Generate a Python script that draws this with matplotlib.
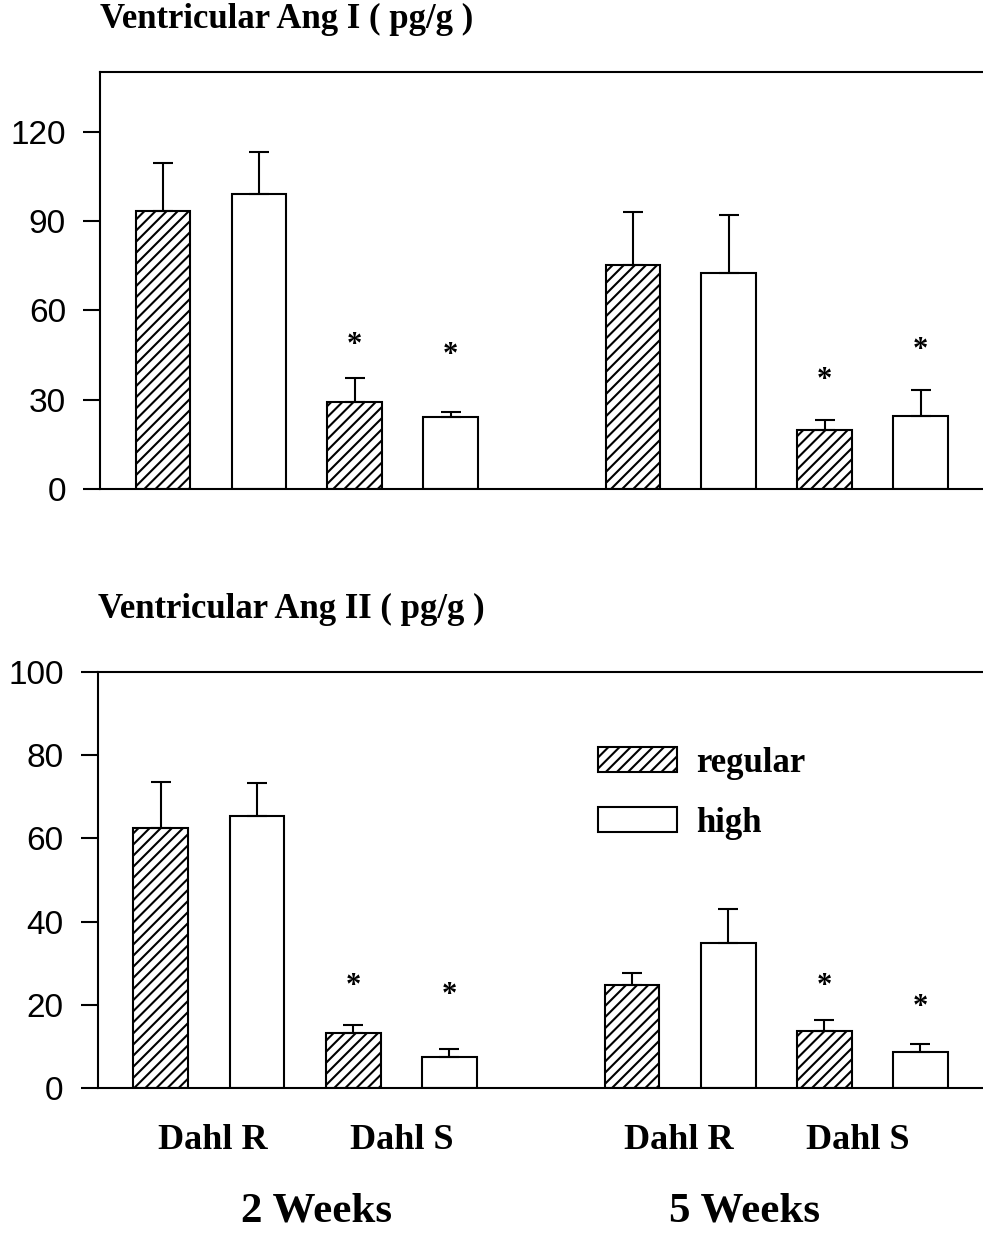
import matplotlib
matplotlib.use("Agg")
import matplotlib.pyplot as plt
import numpy as np

# --- data -------------------------------------------------------------------
# bar order: 2 wk Dahl R reg, 2 wk Dahl R high, 2 wk Dahl S reg, 2 wk Dahl S high,
#            5 wk Dahl R reg, 5 wk Dahl R high, 5 wk Dahl S reg, 5 wk Dahl S high
diets = ["regular", "high"]
strains = ["Dahl R", "Dahl S", "Dahl R", "Dahl S"]
weeks = ["2 Weeks", "5 Weeks"]

ang1_mean = [93.5, 99.1, 29.1, 24.2, 75.1, 72.6, 19.8, 24.6]
ang1_sem = [15.9, 14.0, 8.0, 1.7, 17.9, 19.3, 3.3, 8.6]
ang1_star = [None, None, 50.0, 46.6, None, None, 38.2, 48.3]

ang2_mean = [62.4, 65.4, 13.1, 7.5, 24.7, 34.8, 13.6, 8.7]
ang2_sem = [11.1, 8.0, 2.0, 1.8, 2.8, 8.2, 2.7, 1.8]
ang2_star = [None, None, 25.5, 23.5, None, None, 25.5, 20.4]

ang1_ticks = [0, 30, 60, 90, 120]
ang2_ticks = [0, 20, 40, 60, 80, 100]

# --- layout -----------------------------------------------------------------
SANS = "Liberation Sans"
SERIF = "Liberation Serif"
LW = 1.5
xpos = np.array([0, 1, 2, 3, 4.9, 5.9, 6.9, 7.9])
BAR_W = 0.57
XLIM = (-0.656, 8.55)
HATCH = {"regular": "///", "high": ""}

plt.rcParams["hatch.linewidth"] = 1.5

fig = plt.figure(figsize=(9.83, 12.38), dpi=100)
ax1 = fig.add_axes([100 / 983, 1 - 489 / 1238, 883 / 983, 417 / 1238])
ax2 = fig.add_axes([97.7 / 983, 1 - 1087.7 / 1238, 885.3 / 983, 415.4 / 1238])


def draw_panel(ax, mean, sem, stars, ticks, ymax, title, title_y):
    mean = np.asarray(mean)
    sem = np.asarray(sem)
    conts = []
    for k, diet in enumerate(diets):
        idx = np.arange(k, len(mean), 2)
        c = ax.bar(xpos[idx], mean[idx], BAR_W,
                   yerr=[np.zeros(len(idx)), sem[idx]],
                   color="white", edgecolor="black", linewidth=LW,
                   hatch=HATCH[diet], label=diet,
                   error_kw=dict(ecolor="black", elinewidth=LW,
                                 capsize=7, capthick=LW))
        conts.append(c)
    # significance marks
    for x, s in zip(xpos, stars):
        if s is None:
            continue
        ax.annotate("*", xy=(x, s), xytext=(0, -9), textcoords="offset points",
                    ha="center", va="baseline", fontsize=22,
                    family=SERIF, weight="bold")

    ax.set_xlim(*XLIM)
    ax.set_ylim(0, ymax)
    ax.set_yticks(ticks)
    ax.set_xticks([])
    ax.tick_params(axis="y", direction="out", length=12.5, width=LW, pad=12,
                   labelsize=24)
    for lab in ax.get_yticklabels():
        lab.set_family(SANS)
    for side in ("left", "top", "bottom"):
        ax.spines[side].set_linewidth(LW)
    ax.spines["right"].set_visible(False)
    ax.text(0.0, title_y, title, transform=ax.transAxes, ha="left",
            va="baseline", fontsize=25, family=SERIF, weight="bold")
    return conts


draw_panel(ax1, ang1_mean, ang1_sem, ang1_star, ang1_ticks, 140,
           "Ventricular Ang I ( pg/g )", 1.105)
conts = draw_panel(ax2, ang2_mean, ang2_sem, ang2_star, ang2_ticks, 100,
                   "Ventricular Ang II ( pg/g )", 1.130)

ax2.legend(handles=conts, loc="upper left", bbox_to_anchor=(0.565, 0.8205),
           frameon=False, borderpad=0, borderaxespad=0,
           handlelength=2.28, handleheight=0.72, handletextpad=0.55,
           labelspacing=0.78,
           prop=dict(family=SERIF, weight="bold", size=25))

# category labels under the lower panel
strain_x = [0.54, 2.51, 5.39, 7.25]
week_x = [1.62, 6.07]
xt = ax2.get_xaxis_transform()
for x, s in zip(strain_x, strains):
    ax2.text(x, -0.1476, s, transform=xt, ha="center", va="baseline",
             fontsize=26, family=SERIF, weight="bold")
for x, w in zip(week_x, weeks):
    ax2.text(x, -0.3233, w, transform=xt, ha="center", va="baseline",
             fontsize=31, family=SERIF, weight="bold")

fig.savefig("out.png", dpi=100)
